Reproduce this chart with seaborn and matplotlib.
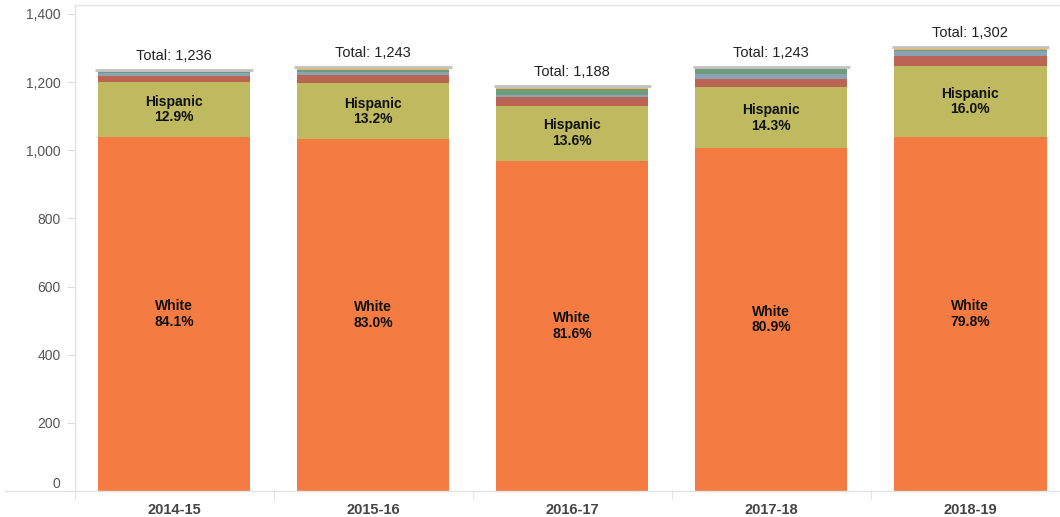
import matplotlib
matplotlib.use('Agg')
import matplotlib.pyplot as plt
from matplotlib.lines import Line2D
import seaborn as sns
import pandas as pd
import numpy as np

# Daten
years = ['2014-15', '2015-16', '2016-17', '2017-18', '2018-19']
white = [1040, 1032, 969, 1006, 1039]
hispanic = [159, 164, 162, 178, 208]
two_more = [20, 24, 24, 24, 28]
asian = [8, 10, 8, 17, 17]
black = [3, 6, 17, 13, 3]
am_indian = [6, 7, 8, 5, 7]

groups = ['White', 'Hispanic', 'Two or More', 'Asian', 'Black', 'American Indian']
colors = ['#F47B42', '#BFBA60', '#BC6453', '#8BA2B5', '#6E9B80', '#F2B449']

df = pd.DataFrame({'year': years, 'White': white, 'Hispanic': hispanic,
                   'Two or More': two_more, 'Asian': asian, 'Black': black,
                   'American Indian': am_indian})
totals = df[groups].sum(axis=1)
cum = df[groups].cumsum(axis=1)

sns.set_style('white')
plt.rcParams['font.family'] = ['Liberation Sans', 'DejaVu Sans']

fig = plt.figure(figsize=(10.6, 5.17), dpi=100)
ax = fig.add_axes([74.5 / 1060, 26 / 517, (1060 - 74.5) / 1060, (512 - 26) / 517])

# gestapelte Balken: von oben nach unten zeichnen
for g, c in reversed(list(zip(groups, colors))):
    sns.barplot(x=df['year'], y=cum[g], color=c, saturation=1, width=0.765,
                linewidth=0, order=years, ax=ax)

xs = np.arange(len(years))
ax.hlines(totals, xs - 0.395, xs + 0.395, color='#c2c2c2', lw=2, zorder=5)
for i, t in enumerate(totals):
    ax.annotate(f'Total: {t:,}', (i, t), xytext=(0, 5), textcoords='offset points',
                ha='center', va='bottom', fontsize=10.5, color='#222222')

# Beschriftungen in den Balken
for i in range(len(years)):
    w = df['White'][i]
    h = df['Hispanic'][i]
    ax.text(i, w / 2, f'White\n{w / totals[i] * 100:.1f}%', ha='center', va='center',
            fontsize=10, fontweight='bold', color='#111111', linespacing=1.15)
    ax.text(i, w + h / 2, f'Hispanic\n{h / totals[i] * 100:.1f}%', ha='center', va='center',
            fontsize=10, fontweight='bold', color='#111111', linespacing=1.15)

ax.set_xlim(-0.5, 4.45)
ax.set_ylim(0, 1426)
ax.set_yticks(range(0, 1401, 200))
ax.set_yticklabels([f'{v:,}' for v in range(0, 1401, 200)])
ax.get_yticklabels()[0].set_va('bottom')
ax.set_xlabel('')
ax.set_ylabel('')
ax.tick_params(axis='y', length=6, color='#dddddd', labelsize=10, labelcolor='#555555', pad=4, left=True)
ax.tick_params(axis='x', which='major', length=0, labelsize=10.5, labelcolor='#444444', pad=9)
ax.set_xticks(np.arange(-0.5, 4.5, 1), minor=True)
ax.tick_params(axis='x', which='minor', length=6, color='#dddddd', bottom=True)
for lab in ax.get_xticklabels():
    lab.set_fontweight('bold')

for s in ['left', 'top', 'bottom']:
    ax.spines[s].set_color('#e2e2e2')
    ax.spines[s].set_linewidth(1)
ax.spines['right'].set_visible(False)

# Grundlinie links verlaengern
fig.add_artist(Line2D([5 / 1060, 74.5 / 1060], [26 / 517, 26 / 517], color='#e2e2e2', lw=1))

fig.savefig('out.png', dpi=100)
